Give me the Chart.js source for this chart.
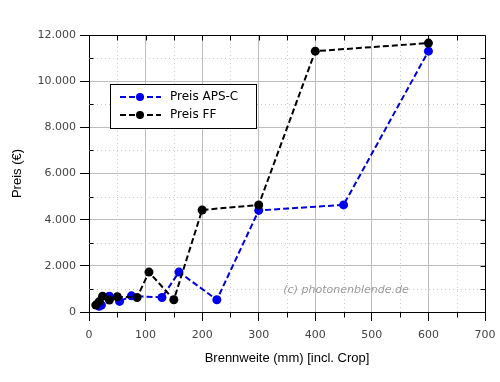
<!DOCTYPE html>
<html>
<head>
<meta charset="utf-8">
<script src="https://cdn.jsdelivr.net/npm/chart.js@4"></script>
<style>
  body { margin: 0; background: #fff; }
</style>
</head>
<body>
<canvas id="chart" width="500" height="382"></canvas>
<script>
// focal length (mm, incl. crop) and price (EUR)
const apsLabel = "Preis APS-C";
const apsX = [18, 22, 36, 54, 75, 129, 159, 226, 300, 450, 600];
const apsY = [250, 300, 680, 460, 700, 630, 1730, 530, 4400, 4640, 11300];

const ffLabel = "Preis FF";
const ffX = [12, 18, 24, 36, 50, 85, 106, 150, 200, 300, 400, 600];
const ffY = [300, 450, 680, 520, 660, 630, 1730, 530, 4420, 4640, 11300, 11650];

const xMin = 0, xMax = 700, xStep = 100;
const yMin = 0, yMax = 12000, yStep = 2000;

const FONT = "DejaVu Sans";

function fmt(v) {
  return String(v).replace(/\B(?=(\d{3})+(?!\d))/g, ".");
}

function toPoints(xs, ys) {
  return xs.map((x, i) => ({ x: x, y: ys[i] }));
}

// minor grid, frame and minor ticks
const framePlugin = {
  id: "frame",
  beforeDatasetsDraw(chart) {
    const { ctx, chartArea: a, scales } = chart;
    const xs = scales.x, ys = scales.y;
    ctx.save();
    ctx.strokeStyle = "#cccccc";
    ctx.lineWidth = 1;
    ctx.setLineDash([1, 3]);
    for (let v = xMin + xStep / 2; v < xMax; v += xStep) {
      const px = Math.round(xs.getPixelForValue(v)) + 0.5;
      ctx.beginPath();
      ctx.moveTo(px, a.top);
      ctx.lineTo(px, a.bottom);
      ctx.stroke();
    }
    for (let v = yMin + yStep / 2; v < yMax; v += yStep) {
      const py = Math.round(ys.getPixelForValue(v)) + 0.5;
      ctx.beginPath();
      ctx.moveTo(a.left, py);
      ctx.lineTo(a.right, py);
      ctx.stroke();
    }
    ctx.setLineDash([]);

    // watermark
    ctx.fillStyle = "#9a9a9a";
    ctx.font = "italic 11px '" + FONT + "'";
    ctx.textAlign = "center";
    ctx.textBaseline = "middle";
    ctx.fillText("(c) photonenblende.de", 346, 290);
    ctx.restore();
  },
  afterDraw(chart) {
    const { ctx, chartArea: a, scales } = chart;
    const xs = scales.x, ys = scales.y;
    ctx.save();
    ctx.strokeStyle = "#000";
    ctx.lineWidth = 1;
    const L = Math.round(a.left) + 0.5, R = Math.round(a.right) + 0.5;
    const T = Math.round(a.top) + 0.5, B = Math.round(a.bottom) + 0.5;
    ctx.beginPath();
    ctx.moveTo(L, T); ctx.lineTo(R, T); ctx.lineTo(R, B);
    ctx.stroke();
    ctx.beginPath();
    for (let v = xMin + xStep / 2; v < xMax; v += xStep) {
      const px = Math.round(xs.getPixelForValue(v)) + 0.5;
      ctx.moveTo(px, B); ctx.lineTo(px, B + 5);
    }
    for (let v = xMin + xStep / 2; v < xMax; v += xStep / 2) {
      const px = Math.round(xs.getPixelForValue(v)) + 0.5;
      ctx.moveTo(px, T); ctx.lineTo(px, T + 5);
    }
    for (let v = yMin + yStep / 2; v < yMax; v += yStep) {
      const py = Math.round(ys.getPixelForValue(v)) + 0.5;
      ctx.moveTo(L, py); ctx.lineTo(L + 4, py);
    }
    for (let v = yMin + yStep / 2; v < yMax; v += yStep / 2) {
      const py = Math.round(ys.getPixelForValue(v)) + 0.5;
      ctx.moveTo(R, py); ctx.lineTo(R - 5, py);
    }
    ctx.stroke();
    ctx.restore();
  },
};

// legend box inside the plot
const legendPlugin = {
  id: "boxLegend",
  afterDatasetsDraw(chart) {
    const ctx = chart.ctx;
    const x0 = 110.5, y0 = 84.5, w = 146, h = 44;
    ctx.save();
    ctx.fillStyle = "#fff";
    ctx.fillRect(x0, y0, w, h);
    ctx.strokeStyle = "#000";
    ctx.lineWidth = 1;
    ctx.strokeRect(x0, y0, w, h);
    const rows = [chart.data.datasets[1], chart.data.datasets[0]];
    rows.forEach((ds, i) => {
      const y = 97 + i * 18;
      ctx.strokeStyle = ds.borderColor;
      ctx.lineWidth = 2;
      ctx.setLineDash([6, 3]);
      ctx.beginPath();
      ctx.moveTo(120, y);
      ctx.lineTo(161, y);
      ctx.stroke();
      ctx.setLineDash([]);
      ctx.fillStyle = ds.backgroundColor;
      ctx.beginPath();
      ctx.arc(140, y, 4, 0, Math.PI * 2);
      ctx.fill();
      ctx.fillStyle = "#000";
      ctx.font = "12px '" + FONT + "'";
      ctx.textAlign = "left";
      ctx.textBaseline = "middle";
      ctx.fillText(ds.label, 170, y);
    });
    ctx.restore();
  },
};

new Chart(document.getElementById("chart"), {
  type: "line",
  data: {
    datasets: [
      {
        label: ffLabel,
        data: toPoints(ffX, ffY),
        borderColor: "#000000",
        backgroundColor: "#000000",
        borderWidth: 2,
        borderDash: [6, 3],
        pointRadius: 4.5,
        pointBorderWidth: 0,
        order: 0,
      },
      {
        label: apsLabel,
        data: toPoints(apsX, apsY),
        borderColor: "#0000dd",
        backgroundColor: "#0000ee",
        borderWidth: 2,
        borderDash: [6, 3],
        pointRadius: 4.5,
        pointBorderWidth: 0,
        order: 1,
      },
    ],
  },
  options: {
    responsive: false,
    animation: false,
    layout: { padding: { top: 35, right: 15, left: 0, bottom: 0 } },
    plugins: {
      legend: { display: false },
      tooltip: { enabled: false },
    },
    scales: {
      x: {
        type: "linear",
        min: xMin,
        max: xMax,
        ticks: {
          stepSize: xStep,
          color: "#444",
          padding: 8,
          maxRotation: 0,
          font: { family: FONT, size: 11 },
        },
        grid: { color: "#bdbdbd", tickColor: "#000", tickLength: 9 },
        border: { color: "#000", width: 1 },
        title: {
          display: true,
          text: "Brennweite (mm) [incl. Crop]",
          color: "#000",
          font: { family: "Liberation Sans", size: 13 },
          padding: { top: 0, bottom: 16 },
        },
        afterFit(scale) {
          scale.height = 70;
          scale.paddingLeft = 0;
          scale.paddingRight = 0;
        },
      },
      y: {
        type: "linear",
        min: yMin,
        max: yMax,
        ticks: {
          stepSize: yStep,
          color: "#444",
          padding: 4,
          callback: (v) => fmt(v),
          font: { family: FONT, size: 11 },
        },
        grid: { color: "#bdbdbd", tickColor: "#000", tickLength: 9 },
        border: { color: "#000", width: 1 },
        title: {
          display: true,
          text: "Preis (€)",
          color: "#000",
          font: { family: "Liberation Sans", size: 13 },
          padding: { top: 10, bottom: 0 },
        },
        afterFit(scale) {
          scale.width = 89;
        },
      },
    },
  },
  plugins: [framePlugin, legendPlugin],
});
</script>
</body>
</html>
